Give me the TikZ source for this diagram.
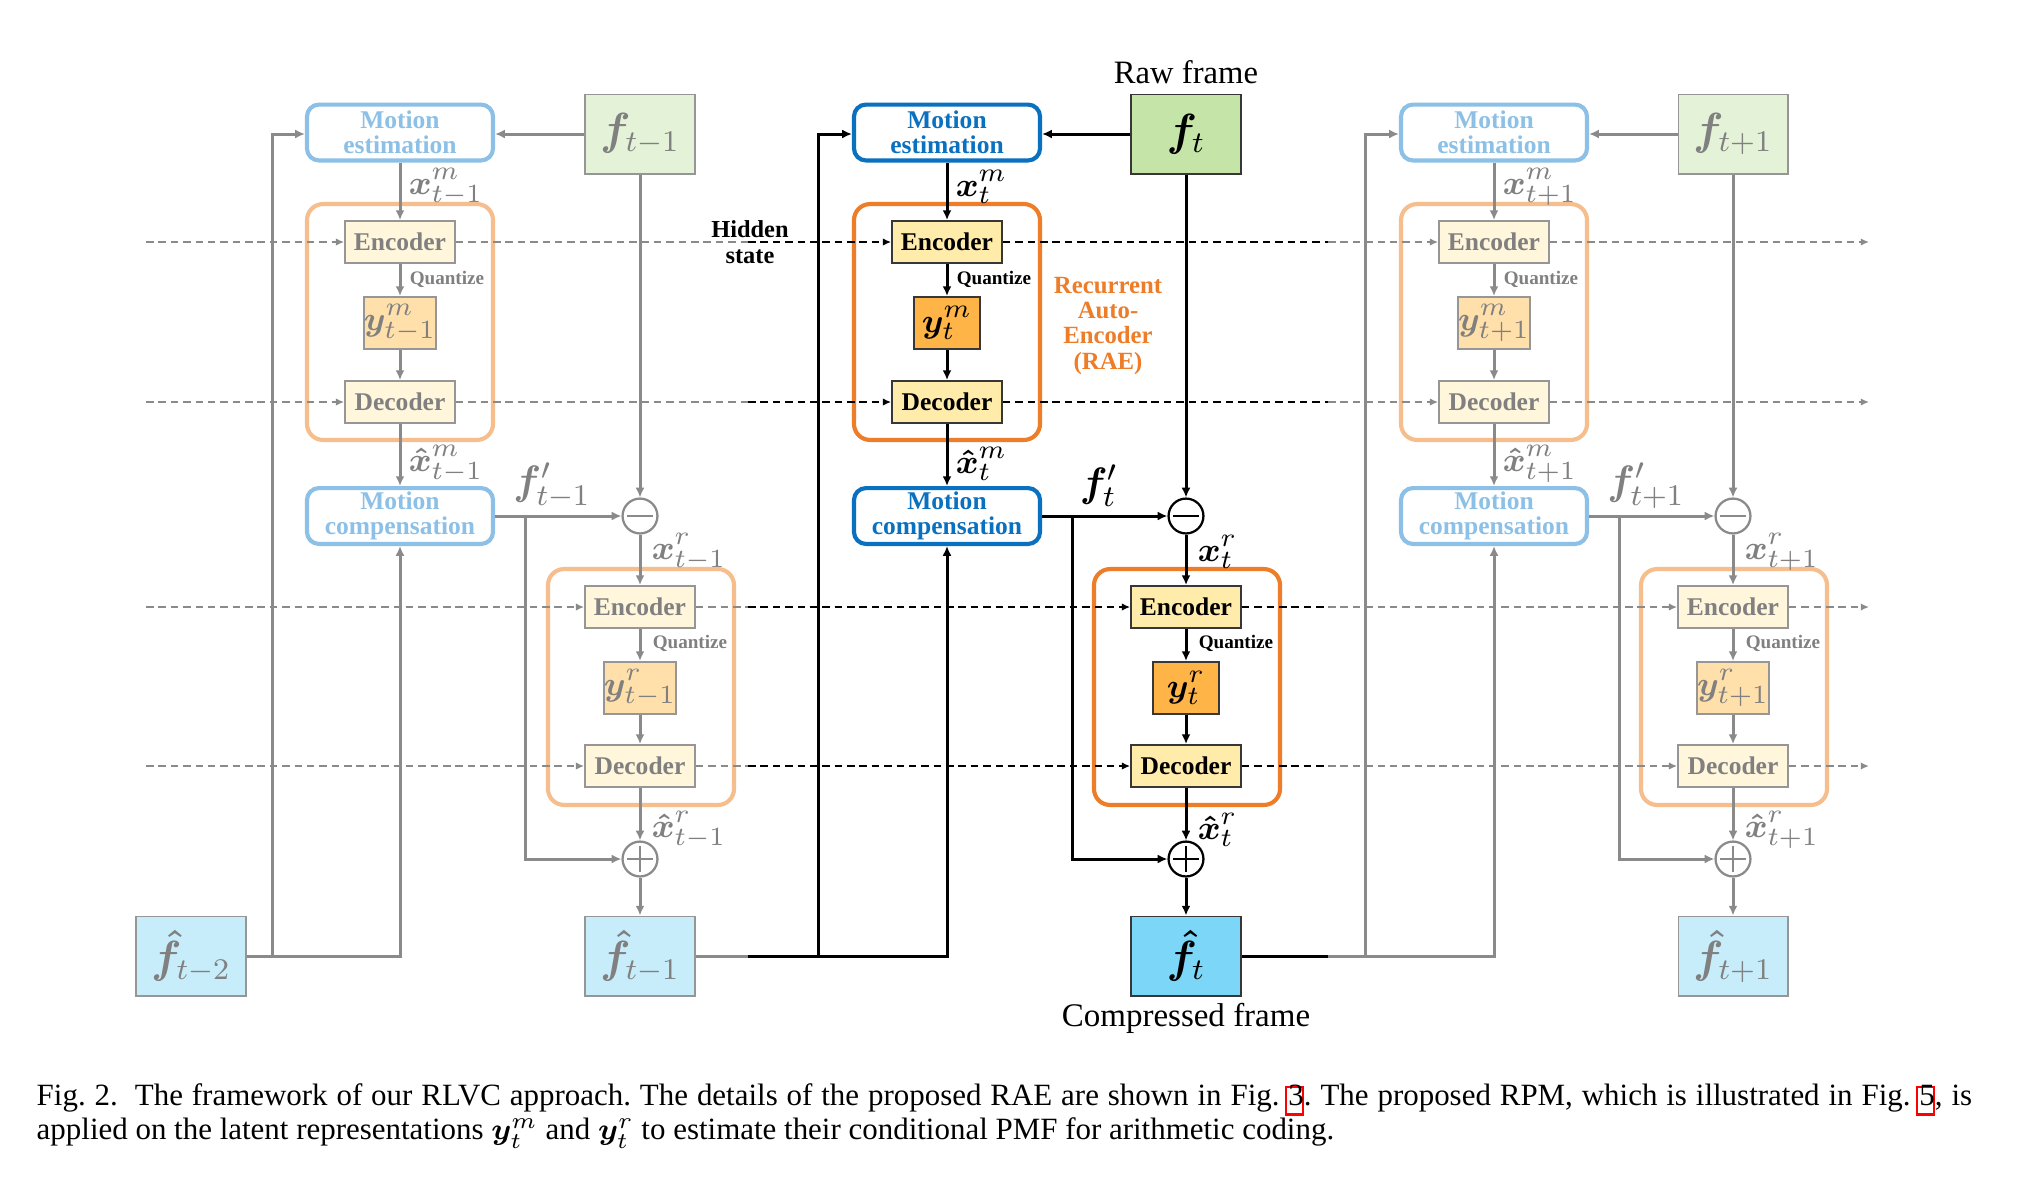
\documentclass[tikz,border=0pt]{standalone}
\usepackage[no-math]{fontspec}
\setmainfont{Liberation Serif}
\usepackage{amsmath}
\usepackage{bm}
\usetikzlibrary{arrows.meta}

\definecolor{medk}{RGB}{10,112,192}
\definecolor{melt}{RGB}{140,192,230}
\definecolor{raedk}{RGB}{237,125,40}
\definecolor{raelt}{RGB}{246,190,140}
\definecolor{encdk}{RGB}{255,235,170}
\definecolor{enclt}{RGB}{255,246,220}
\definecolor{ydk}{RGB}{255,180,72}
\definecolor{ylt}{RGB}{255,223,170}
\definecolor{fdk}{RGB}{197,228,168}
\definecolor{flt}{RGB}{228,243,216}
\definecolor{fhdk}{RGB}{124,214,247}
\definecolor{fhlt}{RGB}{199,237,251}
\definecolor{bdrdk}{RGB}{55,55,55}
\definecolor{bdrlt}{RGB}{150,150,150}
\definecolor{txtlt}{RGB}{128,128,128}
\definecolor{linelt}{RGB}{138,138,138}

\tikzset{
  basebox/.style={rectangle, draw, align=center, inner sep=0pt},
  mebox/.style={basebox, rounded corners=3.2pt, line width=1.1pt, minimum width=49.6pt, minimum height=14.9pt, font=\bfseries\fontsize{6.8}{6.55}\selectfont},
  me-dk/.style={mebox, draw=medk, text=medk},
  me-lt/.style={mebox, draw=melt, text=melt},
  raebox/.style={rectangle, rounded corners=4.3pt, line width=1.1pt, minimum width=49.6pt, minimum height=62.9pt, inner sep=0pt},
  rae-dk/.style={raebox, draw=raedk},
  rae-lt/.style={raebox, draw=raelt},
  codbox/.style={basebox, line width=0.5pt, minimum width=29.3pt, minimum height=11.2pt, font=\bfseries\fontsize{6.8}{8}\selectfont},
  enc-dk/.style={codbox, draw=bdrdk, fill=encdk, text=black},
  enc-lt/.style={codbox, draw=bdrlt, fill=enclt, text=txtlt},
  ybox/.style={basebox, line width=0.5pt, minimum width=17.6pt, minimum height=13.9pt, font=\fontsize{9.5}{11}\selectfont},
  yb-dk/.style={ybox, draw=bdrdk, fill=ydk, text=black},
  yb-lt/.style={ybox, draw=bdrlt, fill=ylt, text=txtlt},
  frbox/.style={basebox, line width=0.5pt, minimum width=29.1pt, minimum height=21.1pt, font=\fontsize{11.5}{13}\selectfont},
  frame-dk/.style={frbox, draw=bdrdk, fill=fdk, text=black},
  frame-lt/.style={frbox, draw=bdrlt, fill=flt, text=txtlt},
  fhat-dk/.style={frbox, draw=bdrdk, fill=fhdk, text=black},
  fhat-lt/.style={frbox, draw=bdrlt, fill=fhlt, text=txtlt},
  opc/.style={circle, line width=0.6pt, minimum size=9.3pt, inner sep=0pt, fill=white},
  op-dk/.style={opc, draw=black},
  op-lt/.style={opc, draw=linelt},
  opl-dk/.style={line width=0.6pt, draw=black},
  opl-lt/.style={line width=0.6pt, draw=linelt},
  ln-dk/.style={line width=0.8pt, draw=black},
  ln-lt/.style={line width=0.8pt, draw=linelt},
  ar-dk/.style={ln-dk, -{Latex[length=2.6pt,width=2.4pt]}},
  ar-lt/.style={ln-lt, -{Latex[length=2.6pt,width=2.4pt]}},
  dsh-dk/.style={line width=0.55pt, draw=black, dash pattern=on 2pt off 1.3pt},
  dsh-lt/.style={line width=0.55pt, draw=linelt, dash pattern=on 2pt off 1.3pt},
  dtip/.style={-{Latex[length=2.2pt,width=2pt]}},
  lbl-dk/.style={inner sep=0pt, font=\fontsize{9.3}{11}\selectfont, text=black},
  lbl-lt/.style={inner sep=0pt, font=\fontsize{9.3}{11}\selectfont, text=txtlt},
  flbl-dk/.style={inner sep=0pt, font=\fontsize{11}{13}\selectfont, text=black},
  flbl-lt/.style={inner sep=0pt, font=\fontsize{11}{13}\selectfont, text=txtlt},
  qlbl-dk/.style={inner sep=0pt, font=\bfseries\fontsize{5.1}{6}\selectfont, text=black},
  qlbl-lt/.style={inner sep=0pt, font=\bfseries\fontsize{5.1}{6}\selectfont, text=txtlt},
}

% #1 x of motion column, #2 x of residual column, #3 name suffix, #4 dk/lt, #5 subscript
\newcommand\rlvccolumn[5]{%
  \node[rae-#4] (raeA-#3) at (#1,322) {};
  \node[rae-#4] (raeB-#3) at (#2+1,687) {};
  \node[me-#4] (me-#3) at (#1,132.5) {Motion\\estimation};
  \node[frame-#4] (f-#3) at (#2,134) {$\bm{f}_{#5}$};
  \node[enc-#4] (encA-#3) at (#1,242) {Encoder};
  \node[yb-#4] (yA-#3) at (#1,323) {$\bm{y}^{m}_{#5}$};
  \node[enc-#4] (decA-#3) at (#1,402) {Decoder};
  \node[me-#4] (mc-#3) at (#1,516) {Motion\\compensation};
  \node[op-#4] (minus-#3) at (#2,516) {};
  \node[enc-#4] (encB-#3) at (#2,607) {Encoder};
  \node[yb-#4] (yB-#3) at (#2,688) {$\bm{y}^{r}_{#5}$};
  \node[enc-#4] (decB-#3) at (#2,766) {Decoder};
  \node[op-#4] (plus-#3) at (#2,859) {};
  \node[fhat-#4] (fh-#3) at (#2,956) {$\bm{\hat{f}}_{#5}$};
  \node[lbl-#4, anchor=west] (xm-#3) at (#1+8,187) {$\bm{x}^{m}_{#5}$};
  \node[qlbl-#4, anchor=west] (qA-#3) at (#1+9,279) {Quantize};
  \node[lbl-#4, anchor=west] (xhm-#3) at (#1+8,464) {$\bm{\hat{x}}^{m}_{#5}$};
  \node[flbl-#4] (fp-#3) at (#1+152,486) {$\bm{f}'_{#5}$};
  \node[lbl-#4, anchor=west] (xr-#3) at (#2+11,552) {$\bm{x}^{r}_{#5}$};
  \node[qlbl-#4, anchor=west] (qB-#3) at (#2+12,643) {Quantize};
  \node[lbl-#4, anchor=west] (xhr-#3) at (#2+11,830) {$\bm{\hat{x}}^{r}_{#5}$};
  \draw[opl-#4] ([xshift=-3.4pt]minus-#3.center) -- ([xshift=3.4pt]minus-#3.center);
  \draw[opl-#4] ([xshift=-3.4pt]plus-#3.center) -- ([xshift=3.4pt]plus-#3.center);
  \draw[opl-#4] ([yshift=-3.4pt]plus-#3.center) -- ([yshift=3.4pt]plus-#3.center);
  \draw[ar-#4] (f-#3.west) -- (f-#3.west -| me-#3.east);
  \draw[ar-#4] (me-#3) -- (encA-#3);
  \draw[ar-#4] (encA-#3) -- (yA-#3);
  \draw[ar-#4] (yA-#3) -- (decA-#3);
  \draw[ar-#4] (decA-#3) -- (mc-#3);
  \draw[ar-#4] (f-#3) -- (minus-#3);
  \draw[ar-#4] (mc-#3) -- (minus-#3);
  \coordinate (br-#3) at (#1+125,516);
  \draw[ar-#4] (br-#3) |- (plus-#3);
  \draw[ar-#4] (minus-#3) -- (encB-#3);
  \draw[ar-#4] (encB-#3) -- (yB-#3);
  \draw[ar-#4] (yB-#3) -- (decB-#3);
  \draw[ar-#4] (decB-#3) -- (plus-#3);
  \draw[ar-#4] (plus-#3) -- (fh-#3);
}

\newcommand\lnk[1]{\leavevmode\rlap{\kern-0.95pt\raisebox{-2.1pt}{\textcolor{red}{\fboxrule=0.6pt\fboxsep=0pt\fbox{\rule{0pt}{6.7pt}\kern3.9pt}}}}#1}

\begin{document}
\begin{tikzpicture}[x=0.2666pt, y=-0.2666pt]
\fill[white] (0,0) rectangle (2028,1184);
\useasboundingbox (0,0) rectangle (2028,1184);

% hidden state lines
\foreach \n/\yy in {encA/242, decA/402, encB/607, decB/766}{
  \coordinate (\n-s) at (146,\yy);
  \coordinate (\n-k1) at (748,\yy);
  \coordinate (\n-k2) at (1328,\yy);
  \coordinate (\n-e) at (1869,\yy);
}

\rlvccolumn{400}{640}{L}{lt}{t-1}
\rlvccolumn{947}{1186}{C}{dk}{t}
\rlvccolumn{1494}{1733}{R}{lt}{t+1}

\node[fhat-lt] (fh-LL) at (191,956) {$\bm{\hat{f}}_{t-2}$};

\foreach \n in {encA, decA, encB, decB}{
  \draw[dsh-lt, dtip] (\n-s) -- (\n-L.west);
  \draw[dsh-lt] (\n-L.east) -- (\n-k1);
  \draw[dsh-dk, dtip] (\n-k1) -- (\n-C.west);
  \draw[dsh-dk] (\n-C.east) -- (\n-k2);
  \draw[dsh-lt, dtip] (\n-k2) -- (\n-R.west);
  \draw[dsh-lt, dtip] (\n-R.east) -- (\n-e);
}

% feedback of decoded frames
\coordinate (bm-L) at (272,956);
\draw[ar-lt] (fh-LL.east) -| (mc-L.south);
\draw[ar-lt] (bm-L) |- (f-L.west -| me-L.west);

\coordinate (gk-C) at (748,956);
\coordinate (bm-C) at (818,956);
\draw[ln-lt] (fh-L.east) -- (gk-C);
\draw[ar-dk] (gk-C) -| (mc-C.south);
\draw[ar-dk] (bm-C) |- (f-C.west -| me-C.west);

\coordinate (gk-R) at (1328,956);
\coordinate (bm-R) at (1365,956);
\draw[ln-dk] (fh-C.east) -- (gk-R);
\draw[ar-lt] (gk-R) -| (mc-R.south);
\draw[ar-lt] (bm-R) |- (f-R.west -| me-R.west);

% texts
\node[font=\fontsize{8.7}{10}\selectfont, inner sep=0pt] (raw) at (1186,72) {Raw frame};
\node[font=\fontsize{8.8}{10}\selectfont, inner sep=0pt] (comp) at (1186,1018) {Compressed frame};
\node[font=\bfseries\fontsize{6.5}{6.9}\selectfont, align=center, inner sep=0pt] (hid) at (750,242) {Hidden\\state};
\node[font=\bfseries\fontsize{6.6}{6.67}\selectfont, align=center, text=raedk, inner sep=0pt] (raetxt) at (1108,326) {Recurrent\\Auto-\\Encoder\\(RAE)};

\node[anchor=north west, inner sep=0pt, text width=516pt, align=justify, font=\fontsize{8.25}{9.07}\selectfont] (cap) at (36,1083) {\frenchspacing Fig.~2.\hspace{0.55em}The framework of our RLVC approach. The details of the proposed RAE are shown in Fig.~\lnk{3}. The proposed RPM, which is illustrated in Fig.~\lnk{5}, is\linebreak applied on the latent representations $\bm{y}_t^m$ and $\bm{y}_t^r$ to estimate their conditional PMF for arithmetic coding.};
\end{tikzpicture}
\end{document}
